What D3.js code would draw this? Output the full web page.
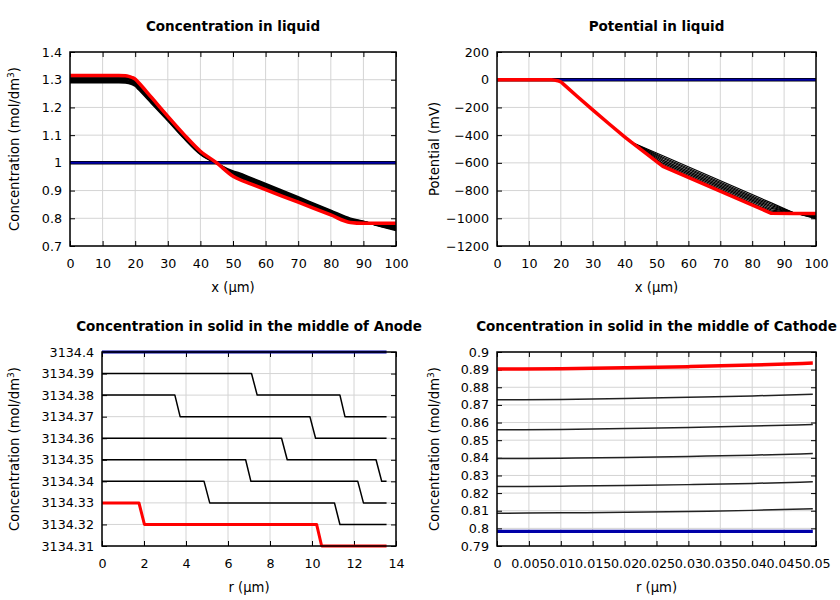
<!DOCTYPE html>
<html><head><meta charset="utf-8">
<script src="https://cdn.jsdelivr.net/npm/d3@7"></script>
<style>body{margin:0;background:#fff}svg{display:block}</style>
</head><body><svg id="c" width="840" height="600"></svg>
<script>
// ---------- DATA ----------
// Panel 1: Concentration in liquid
const liquidX = [0,5,10,15,17,18,19,20,21,25,30,35,40,45,50,52,55,60,70,80,86,90,95,100];
const liquidConcBlue = [1,1,1,1,1,1,1,1,1,1,1,1,1,1,1,1,1,1,1,1,1,1,1,1];
const liquidConcBlack = [
  [1.290,1.290,1.290,1.290,1.289,1.287,1.283,1.277,1.265,1.215,1.152,1.088,1.031,0.998,0.970,0.963,0.949,0.925,0.877,0.829,0.800,0.789,0.772,0.756],
  [1.294,1.294,1.294,1.294,1.293,1.291,1.287,1.281,1.270,1.219,1.155,1.090,1.033,0.998,0.967,0.960,0.946,0.922,0.874,0.826,0.797,0.788,0.773,0.760],
  [1.298,1.298,1.298,1.298,1.297,1.295,1.291,1.285,1.274,1.222,1.158,1.093,1.035,0.999,0.964,0.957,0.943,0.919,0.871,0.823,0.795,0.787,0.774,0.764],
  [1.302,1.302,1.302,1.302,1.301,1.299,1.295,1.289,1.278,1.225,1.160,1.095,1.037,0.999,0.961,0.953,0.939,0.916,0.868,0.821,0.792,0.786,0.775,0.767],
  [1.306,1.306,1.306,1.306,1.305,1.303,1.299,1.293,1.282,1.228,1.163,1.097,1.038,1.000,0.958,0.950,0.936,0.912,0.865,0.818,0.789,0.785,0.776,0.770],
  [1.310,1.310,1.310,1.310,1.309,1.307,1.303,1.297,1.286,1.231,1.165,1.099,1.040,1.000,0.955,0.947,0.933,0.909,0.862,0.815,0.787,0.784,0.778,0.774]
];
const liquidConcRed = [1.315,1.315,1.315,1.315,1.314,1.312,1.308,1.302,1.290,1.236,1.168,1.102,1.042,1.000,0.952,0.940,0.926,0.903,0.858,0.812,0.785,0.782,0.782,0.782];

// Panel 2: Potential in liquid
const potX = [0,10,15,17,18,19,20,21,25,30,35,40,42,52,86,93,100];
const potBlue = [0,0,0,0,0,0,0,0,0,0,0,0,0,0,0,0,0];
const potBlack = [
  [0,0,0,-1,-3,-7,-15,-35,-118,-218,-316,-412,-449,-549,-889,-960,-1003],
  [0,0,0,-1,-3,-7,-15,-35,-118,-218,-316,-412,-449,-559,-899,-960,-1000],
  [0,0,0,-1,-3,-7,-15,-35,-118,-218,-316,-412,-449,-569,-909,-961,-996],
  [0,0,0,-1,-3,-7,-15,-35,-118,-218,-316,-412,-449,-580,-919,-962,-992],
  [0,0,0,-1,-3,-7,-15,-35,-118,-218,-316,-412,-449,-591,-929,-963,-988],
  [0,0,0,-1,-3,-7,-15,-35,-118,-218,-316,-412,-449,-602,-939,-964,-984],
  [0,0,0,-1,-3,-7,-15,-35,-118,-218,-316,-412,-449,-612,-949,-965,-980],
  [0,0,0,-1,-3,-7,-15,-35,-118,-218,-316,-412,-449,-620,-957,-966,-976]
];
const potRed = [0,0,0,-1,-3,-7,-15,-35,-118,-218,-316,-412,-449,-625,-964,-966,-966];

// Panel 3: Concentration in solid, middle of Anode  ([r, c] vertices)
const anodeBlue = [[0,3134.40],[13.55,3134.40]];
const anodeBlack = [
  [[0,3134.39],[7.12,3134.39],[7.39,3134.38],[11.33,3134.38],[11.57,3134.37],[13.55,3134.37]],
  [[0,3134.38],[3.47,3134.38],[3.72,3134.37],[9.90,3134.37],[10.17,3134.36],[13.55,3134.36]],
  [[0,3134.36],[8.55,3134.36],[8.82,3134.35],[13.05,3134.35],[13.32,3134.34],[13.55,3134.34]],
  [[0,3134.35],[6.84,3134.35],[7.09,3134.34],[12.18,3134.34],[12.45,3134.33],[13.55,3134.33]],
  [[0,3134.34],[4.86,3134.34],[5.13,3134.33],[11.07,3134.33],[11.33,3134.32],[13.55,3134.32]]
];
const anodeRed = [[0,3134.33],[1.76,3134.33],[2.02,3134.32],[10.22,3134.32],[10.46,3134.31],[13.55,3134.31]];

// Panel 4: Concentration in solid, middle of Cathode
const cathodeR = [0,0.01,0.02,0.03,0.04,0.0495];
const cathodeBlue = [0.7983,0.7983,0.7983,0.7983,0.7983,0.7983];
const cathodeBlack = [
  [0.8086,0.8088,0.8091,0.8096,0.8102,0.8111],
  [0.8237,0.8239,0.8243,0.8248,0.8255,0.8264],
  [0.8396,0.8398,0.8402,0.8408,0.8415,0.8424],
  [0.8559,0.8561,0.8566,0.8572,0.8580,0.8589],
  [0.8729,0.8731,0.8736,0.8743,0.8751,0.8760]
];
const cathodeRed = [0.8903,0.8905,0.8910,0.8917,0.8926,0.8937];

// Ticks
const liquidXTicks = [0,10,20,30,40,50,60,70,80,90,100];
const liquidConcTicks = [0.7,0.8,0.9,1,1.1,1.2,1.3,1.4];
const potTicks = [-1200,-1000,-800,-600,-400,-200,0,200];
const anodeRTicks = [0,2,4,6,8,10,12,14];
const anodeCTicks = [3134.31,3134.32,3134.33,3134.34,3134.35,3134.36,3134.37,3134.38,3134.39,3134.4];
const cathodeRTicks = [0,0.005,0.01,0.015,0.02,0.025,0.03,0.035,0.04,0.045,0.05];
const cathodeCTicks = [0.79,0.8,0.81,0.82,0.83,0.84,0.85,0.86,0.87,0.88,0.89,0.9];

// ---------- DRAW ----------
const svg = d3.select("#c");
svg.append("rect").attr("width",840).attr("height",600).attr("fill","#fff");
const FONT = "DejaVu Sans, sans-serif";
const fmt = d3.format(".7~g");
const BLUE = "#0000a8", RED = "#ff0000";

function panel(o){
  const g = svg.append("g");
  const x = d3.scaleLinear().domain(o.xd).range([o.l,o.r]);
  const y = d3.scaleLinear().domain(o.yd).range([o.b,o.t]);
  // grid
  g.selectAll(".gx").data(o.xt).join("line").attr("x1",d=>x(d)).attr("x2",d=>x(d))
    .attr("y1",o.t).attr("y2",o.b).attr("stroke","#d4d4d4").attr("stroke-width",1);
  g.selectAll(".gy").data(o.yt).join("line").attr("y1",d=>y(d)).attr("y2",d=>y(d))
    .attr("x1",o.l).attr("x2",o.r).attr("stroke","#d4d4d4").attr("stroke-width",1);
  // axes
  const ax = (gen,tr,vals,lab)=>{
    const a = g.append("g").attr("transform",tr).call(gen.tickValues(vals).tickSizeInner(-5).tickSizeOuter(0)
      .tickPadding(lab?10:0).tickFormat(lab?fmt:""));
    a.select(".domain").remove();
    a.selectAll("line").attr("stroke","#000").attr("stroke-width",1);
    a.selectAll("text").attr("font-family",FONT).attr("font-size",12.7).attr("fill","#000");
    return a;
  };
  ax(d3.axisBottom(x),`translate(0,${o.b})`,o.xt,true).selectAll("text").attr("dy","0.95em");
  ax(d3.axisTop(x),`translate(0,${o.t})`,o.xt,false);
  ax(d3.axisLeft(y),`translate(${o.l},0)`,o.yt,true).attr("text-anchor","end").selectAll("text").attr("x",-8);
  ax(d3.axisRight(y),`translate(${o.r},0)`,o.yt,false);
  // series
  const line = d3.line().x(d=>x(d[0])).y(d=>y(d[1])).curve(o.curve||d3.curveLinear);
  o.series.forEach(s=>{
    g.append("path").attr("d",line(s.pts)).attr("fill","none").attr("stroke",s.c)
      .attr("stroke-width",s.w).attr("stroke-linejoin","round").attr("stroke-linecap","butt");
  });
  // frame
  g.append("rect").attr("x",o.l).attr("y",o.t).attr("width",o.r-o.l).attr("height",o.b-o.t)
    .attr("fill","none").attr("stroke","#000").attr("stroke-width",1.5);
  // title
  const cx=(o.l+o.r)/2;
  g.append("text").attr("x",cx).attr("y",o.t-21).attr("text-anchor","middle").attr("font-family",FONT)
    .attr("font-weight","bold").attr("font-size",13.5).text(o.title);
  g.append("text").attr("x",cx).attr("y",o.b+46).attr("text-anchor","middle").attr("font-family",FONT)
    .attr("font-size",13.2).text(o.xl);
  const yl = g.append("text").attr("transform",`translate(${o.ylx},${(o.t+o.b)/2}) rotate(-90)`)
    .attr("text-anchor","middle").attr("font-family",FONT).attr("font-size",13.2);
  yl.append("tspan").text(o.yl);
  if(o.sup){
    yl.append("tspan").attr("font-size",9).attr("dy",-5).text("3");
    yl.append("tspan").attr("dy",5).text(")");
  }
}
const zipXY = (xs,ys)=>xs.map((v,i)=>[v,ys[i]]);

panel({l:70,r:396,t:52,b:246,xd:[0,100],yd:[0.7,1.4],xt:liquidXTicks,yt:liquidConcTicks,
  title:"Concentration in liquid",xl:"x (µm)",yl:"Concentration (mol/dm",sup:true,ylx:19,
  curve:d3.curveMonotoneX,
  series:[{pts:zipXY(liquidX,liquidConcBlue),c:"#000",w:3.5},{pts:zipXY(liquidX,liquidConcBlue),c:BLUE,w:2}]
    .concat(liquidConcBlack.map(s=>({pts:zipXY(liquidX,s),c:"#000",w:1.8})))
    .concat([{pts:zipXY(liquidX,liquidConcRed),c:RED,w:3.5}])});

panel({l:497,r:816,t:52,b:246,xd:[0,100],yd:[-1200,200],xt:liquidXTicks,yt:potTicks,
  title:"Potential in liquid",xl:"x (µm)",yl:"Potential (mV)",sup:false,ylx:439,
  series:[{pts:zipXY(potX,potBlue),c:"#000",w:3.5},{pts:zipXY(potX,potBlue),c:BLUE,w:2}]
    .concat(potBlack.map(s=>({pts:zipXY(potX,s),c:"#000",w:1.2})))
    .concat([{pts:zipXY(potX,potRed),c:RED,w:3.5}])});

panel({l:102,r:396,t:352,b:546,xd:[0,14],yd:[3134.31,3134.40],xt:anodeRTicks,yt:anodeCTicks,
  title:"Concentration in solid in the middle of Anode",xl:"r (µm)",yl:"Concentration (mol/dm",sup:true,ylx:19,
  series:[{pts:anodeBlue,c:BLUE,w:3}]
    .concat(anodeBlack.map(s=>({pts:s,c:"#000",w:1.5})))
    .concat([{pts:anodeRed,c:RED,w:3}])});

panel({l:497,r:816,t:352,b:546,xd:[0,0.05],yd:[0.79,0.9],xt:cathodeRTicks,yt:cathodeCTicks,
  title:"Concentration in solid in the middle of Cathode",xl:"r (µm)",yl:"Concentration (mol/dm",sup:true,ylx:439,
  curve:d3.curveMonotoneX,
  series:[{pts:zipXY(cathodeR,cathodeBlue),c:BLUE,w:3.2}]
    .concat(cathodeBlack.map(s=>({pts:zipXY(cathodeR,s),c:"#222",w:1.5})))
    .concat([{pts:zipXY(cathodeR,cathodeRed),c:RED,w:3.5}])});
</script></body></html>
